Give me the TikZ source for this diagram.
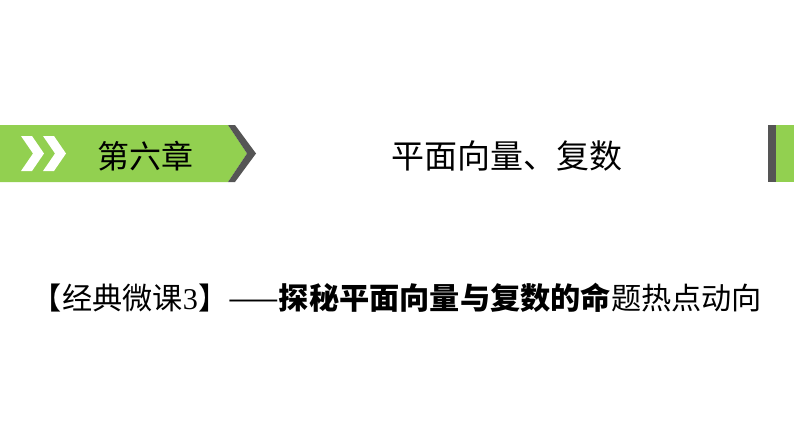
\documentclass[tikz,border=0pt]{standalone}
\usepackage{fontspec}
\setmainfont{Noto Sans CJK SC}
\newfontfamily\digitfont{Liberation Serif}
\usetikzlibrary{positioning}
\definecolor{bannergreen}{RGB}{146,208,80}
\definecolor{bannergray}{RGB}{85,85,85}

\begin{document}
\begin{tikzpicture}[x=1pt, y=-1pt]
      \useasboundingbox (0, 0) rectangle (794, 447);
      \fill [bannergreen] (0, 125) -- (228, 125) -- (247, 153.5) -- (228, 182) -- (0, 182) -- cycle;
      \fill [bannergray] (228, 125) -- (235, 125) -- (256, 153.5) -- (235, 182) -- (228, 182) -- (247, 153.5) -- cycle;
      \foreach \dx in {0, 22}
        \fill [white] (21+\dx, 136) -- (32+\dx, 136) -- (44+\dx, 153.5) -- (32+\dx, 171) -- (21+\dx, 171) -- (33+\dx, 153.5) -- cycle;

      \fill [bannergray] (768, 125) rectangle (776, 182);
      \fill [bannergreen] (776, 125) rectangle (794, 182);

      \node (chapter) at (145, 156) {\fontsize{32}{32}\selectfont 第六章};
      \node (title) at (507, 156) {\fontsize{33}{33}\selectfont 平面向量、复数};
      \node (lesson) at (397, 298) {\fontsize{30.2}{30.2}\selectfont 【经典微课{\digitfont 3}】——\textbf{探秘平面向量与复数的命}题热点动向};
    \end{tikzpicture}
\end{document}
